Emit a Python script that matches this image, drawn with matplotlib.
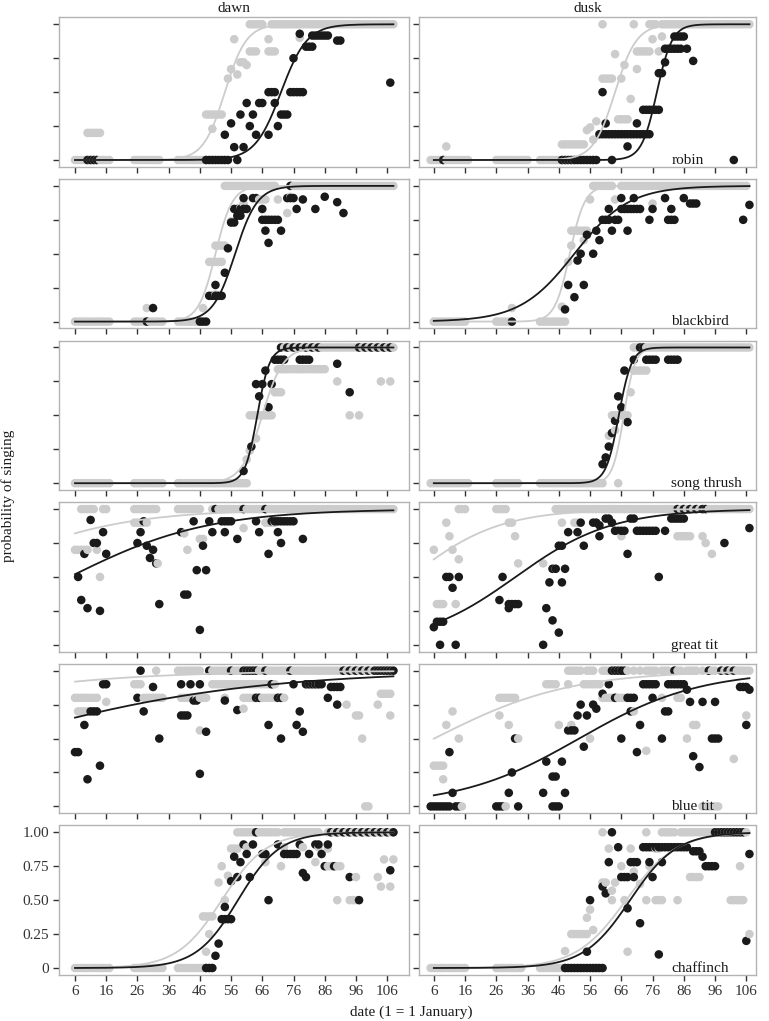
import numpy as np
import matplotlib
matplotlib.use("Agg")
import matplotlib.pyplot as plt

# ---------------- data: {probability: [days]} ----------------
species = ["robin", "blackbird", "song thrush", "great tit", "blue tit", "chaffinch"]
periods = ["dawn", "dusk"]
x_ticks = [6, 16, 26, 36, 46, 56, 66, 76, 86, 96, 106]
y_ticks = [0, 0.25, 0.5, 0.75, 1.0]
y_tick_labels = ["0", "0.25", "0.50", "0.75", "1.00"]

robin_dawn_grey = {
    0: [6, 7, 8, 9, 10, 11, 12, 13, 14, 15, 16, 17, 25, 26, 27, 28, 29, 30, 31, 32, 33,
        39, 40, 41, 42, 43, 44, 45, 46, 47, 48],
    0.2: [10, 11, 12, 13, 14], 0.23: [50], 0.335: [48, 49, 50, 51, 52, 53],
    0.6: [55], 0.63: [58], 0.67: [56], 0.72: [59, 60], 0.7: [61],
    0.8: [62, 63, 64, 68, 69, 70], 0.89: [57, 68], 0.9: [78],
    1.0: [62, 63, 64, 65, 66, 69, 70, 71, 72, 73, 74, 75, 76, 77, 78, 79, 80, 81, 82, 83, 84,
          85, 86, 87, 88, 89, 90, 91, 92, 93, 94, 95, 96, 97, 98, 99, 100, 101, 102, 103,
          104, 105, 106, 107, 108],
}
robin_dawn_black = {
    0: [10, 11, 12, 13, 48, 49, 50, 51, 52, 53, 54, 55, 58],
    0.095: [57, 60], 0.186: [54, 64, 68], 0.27: [56], 0.25: [62, 71],
    0.335: [59, 63, 72, 73, 74], 0.42: [61, 65, 66, 70],
    0.5: [68, 69, 70, 75, 76, 77, 78, 79], 0.75: [76], 0.835: [80, 81, 82],
    0.917: [82, 83, 84, 85, 86, 87], 0.88: [90, 91], 0.93: [78], 0.57: [107],
}
robin_dusk_grey = {
    0: [5, 6, 7, 8, 9, 10, 11, 12, 13, 14, 15, 16, 17, 26, 27, 28, 29, 30, 31, 32, 33, 34,
        35, 36, 40, 41, 42, 43, 44, 45, 46, 47, 48, 49, 50, 51],
    0.1: [10], 0.115: [47, 48, 49, 50, 51, 52, 53, 54], 0.15: [57], 0.22: [55],
    0.24: [56], 0.285: [58], 0.3: [65, 66, 67, 68], 0.45: [69],
    0.6: [60, 61, 62, 63, 66], 0.7: [67], 0.67: [71], 0.78: [64],
    0.8: [71, 72, 73, 74, 75, 78], 0.89: [76], 0.91: [79],
    1.0: [60, 70, 75, 76, 77, 79, 80, 81, 82, 83, 84, 85, 86, 87, 88, 89, 90, 91, 92, 93,
          94, 95, 96, 97, 98, 99, 100, 101, 102, 103, 104, 105, 106, 107],
}
robin_dusk_black = {
    0: [9, 47, 48, 49, 50, 51, 52, 53, 54, 55, 56, 57, 58, 63, 102],
    0.1: [68],
    0.19: [59, 60, 61, 62, 63, 64, 65, 66, 67, 68, 69, 70, 71, 72, 73, 74, 75],
    0.27: [61, 71], 0.37: [73, 74, 75, 76, 77, 78], 0.5: [60], 0.64: [78, 79],
    0.72: [80], 0.73: [89], 0.82: [80, 81, 82, 83, 84, 85, 87], 0.91: [83, 84, 85, 86],
}

blackbird_dawn_grey = {
    0: [6, 7, 8, 9, 10, 11, 12, 13, 14, 15, 16, 17, 25, 26, 27, 28, 29, 30, 31, 32, 33, 34,
        39, 40, 41, 42, 43, 44, 45, 46],
    0.1: [29, 47], 0.2: [51], 0.44: [49, 50, 51, 52, 53], 0.56: [51, 52, 53, 54],
    0.74: [56], 0.84: [59], 0.87: [60], 0.9: [65, 66, 67, 71], 0.8: [74], 0.92: [75],
    1.0: [54, 55, 56, 57, 58, 59, 60, 61, 62, 63, 64, 65, 66, 67, 68, 69, 70, 76, 77, 78,
          79, 80, 81, 82, 83, 84, 85, 86, 87, 88, 89, 90, 91, 92, 93, 94, 95, 96, 97, 98,
          99, 100, 101, 102, 103, 104, 105, 106, 107, 108],
}
blackbird_dawn_black = {
    0: [29, 46, 47, 48], 0.1: [31], 0.19: [49, 50, 51, 52, 53], 0.27: [51],
    0.36: [54], 0.54: [55], 0.73: [56, 57], 0.78: [58, 59],
    0.83: [57, 58, 59, 60, 61, 66, 77, 83], 0.91: [60, 63, 64, 74, 75, 76],
    0.75: [66, 67, 68, 69, 70, 71], 0.67: [67, 72], 0.58: [68], 1.0: [75],
    0.9: [79], 0.92: [86], 0.88: [90], 0.8: [92],
}
blackbird_dusk_grey = {
    0: [6, 7, 8, 9, 10, 11, 12, 13, 14, 15, 16, 26, 27, 28, 29, 30, 31,
        40, 41, 42, 43, 44, 45, 46, 47, 48],
    0.1: [31], 0.11: [47], 0.44: [49], 0.56: [50], 0.67: [50, 51, 52, 53, 54, 55],
    0.6: [54], 0.9: [56, 64], 0.87: [76],
    1.0: [57, 58, 59, 60, 61, 62, 63, 66, 67, 68, 69, 70, 71, 72, 73, 74, 75, 76, 77, 78,
          79, 80, 81, 82, 83, 84, 85, 86, 87, 88, 89, 90, 91, 92, 93, 94, 95, 96, 97, 98,
          99, 100, 101, 102, 103, 104, 105, 106],
}
blackbird_dusk_black = {
    0: [31], 0.09: [48], 0.18: [51], 0.27: [49, 54], 0.45: [52], 0.5: [53, 57],
    0.6: [59], 0.64: [55], 0.67: [58, 63, 68],
    0.75: [60, 61, 62, 64, 65, 75, 81, 82, 83, 105],
    0.83: [62, 66, 67, 68, 69, 70, 71, 72, 76, 82],
    0.91: [66, 70, 80, 86], 0.87: [88, 89, 90], 0.86: [107],
}

song_thrush_dawn_grey = {
    0: [6, 7, 8, 9, 10, 11, 12, 13, 14, 15, 16, 17, 25, 26, 27, 28, 29, 30, 31, 32, 33, 34,
        39, 40, 41, 42, 43, 44, 45, 46, 47, 48, 49, 50, 51, 52, 53, 54, 55, 56, 57, 58,
        59, 60, 61],
    0.175: [61], 0.24: [62], 0.33: [64], 0.5: [62, 63, 64, 65, 66, 67, 68, 69, 94, 97],
    0.67: [70, 71, 72],
    0.84: [71, 72, 73, 74, 75, 76, 77, 78, 79, 80, 81, 82, 83, 84, 85, 86],
    0.75: [90, 104, 107],
    1.0: [73, 74, 75, 76, 77, 78, 79, 80, 81, 82, 83, 84, 85, 86, 87, 88, 89, 90, 91, 92,
          93, 94, 95, 96, 97, 98, 99, 100, 101, 102, 103, 104, 105, 106, 107, 108],
}
song_thrush_dawn_black = {
    0.09: [60], 0.27: [62.5], 0.56: [68], 0.64: [65], 0.73: [64, 66, 69], 0.83: [67],
    0.91: [70, 71, 72, 73, 78, 79, 80, 81],
    1.0: [72, 74, 76, 78, 80, 82, 84, 97, 99, 101, 103, 105, 107],
    0.88: [90], 0.67: [94],
}
song_thrush_dusk_grey = {
    0: [5, 6, 7, 8, 9, 10, 11, 12, 13, 14, 15, 16, 17, 26, 27, 28, 29, 30, 31, 32, 33,
        40, 41, 42, 43, 44, 45, 46, 47, 48, 49, 50, 51, 52, 53, 54, 55, 56, 57, 58, 59,
        60, 65],
    0.35: [62], 0.39: [64], 0.5: [63, 64, 65, 66, 67, 68], 0.67: [69],
    0.83: [70, 71, 72, 73, 74],
    1.0: [70, 71, 72, 73, 74, 75, 76, 77, 78, 79, 80, 81, 82, 83, 84, 85, 86, 87, 88, 89,
          90, 91, 92, 93, 94, 95, 96, 97, 98, 99, 100, 101, 102, 103, 104, 105, 106, 107],
}
song_thrush_dusk_black = {
    0.14: [60], 0.19: [61], 0.27: [62], 0.37: [63], 0.46: [64], 0.64: [65],
    0.56: [66], 0.45: [68], 0.83: [67],
    0.91: [70, 74, 75, 76, 77, 81, 82, 83, 84], 1.0: [72, 73],
}

great_tit_dawn_grey = {
    1.0: [8, 9, 10, 11, 12, 15, 16, 25, 26, 27, 28, 29, 30, 31, 32, 39, 40, 41, 42, 43, 44,
          45, 46, 50, 51, 52, 53, 54, 55, 56, 57, 58, 59, 60, 61, 62, 63, 64, 65, 66, 67,
          68, 69, 70, 71, 72, 73, 74, 75, 76, 77, 78, 79, 80, 81, 82, 83, 84, 85, 86, 87,
          88, 89, 90, 91, 92, 93, 94, 95, 96, 97, 98, 99, 100, 101, 102, 103, 104, 105,
          106, 107, 108],
    0.7: [6, 7, 8, 9, 10, 13, 42], 0.5: [14], 0.9: [25, 26, 27, 28, 29, 67, 68, 69, 70],
    0.82: [41], 0.78: [46, 47], 0.6: [32.5], 0.86: [60],
}
great_tit_dawn_black = {
    0.5: [7], 0.33: [8], 0.27: [10], 0.25: [14], 0.67: [9, 16, 68], 0.92: [11],
    0.75: [12, 13, 26, 72], 0.83: [15, 27, 40, 50, 54, 65, 71],
    0.91: [28, 44, 49, 53, 54, 55, 56, 64, 69, 70, 71, 72, 73, 74, 75, 76],
    0.73: [29, 47], 0.7: [31], 0.64: [30], 0.6: [32], 0.3: [33], 0.37: [41, 42],
    0.55: [45, 48], 0.11: [46], 1.0: [51, 60, 67], 0.78: [58, 79],
}
great_tit_dusk_grey = {
    1.0: [14, 15, 16, 26, 27, 28, 29, 45, 46, 47, 48, 49, 50, 51, 52, 53, 54, 55, 56, 57,
          58, 59, 60, 61, 62, 63, 64, 65, 66, 67, 68, 69, 70, 71, 72, 73, 74, 75, 76, 77,
          78, 79, 80, 81, 82, 83, 84, 85, 86, 87, 88, 89, 90, 91, 92, 93, 94, 95, 96, 97,
          98, 99, 100, 101, 102, 103, 104, 105, 106, 107],
    0.7: [6, 12], 0.9: [10, 30, 31, 47, 51, 52], 0.8: [11, 32, 66, 84, 85, 86, 87, 88, 92],
    0.63: [14], 0.3: [7, 8, 9, 13], 0.6: [33, 41], 0.56: [44, 45], 0.75: [93], 0.67: [95],
}
great_tit_dusk_black = {
    0.13: [6], 0.17: [7, 8, 9], 0: [8, 13, 41], 0.5: [10, 11, 14, 28, 78], 0.42: [12],
    0.33: [27], 0.3: [30, 31, 32, 33], 0.27: [30, 42], 0.18: [44], 0.09: [46],
    0.46: [43, 47], 0.56: [44, 45, 48], 0.73: [46, 47, 54], 0.83: [49, 52],
    0.9: [53, 57, 58, 63], 0.88: [59], 0.8: [59],
    0.93: [61, 62, 69, 70, 82, 83, 84, 85, 86],
    0.84: [64, 65, 66, 67, 71, 72, 73, 74, 75, 76, 77, 80], 0.67: [68],
    1.0: [84, 86, 88, 90, 92, 93], 0.75: [99], 0.86: [107],
}

blue_tit_dawn_grey = {
    1.0: [32, 39, 40, 41, 42, 43, 44, 45, 46, 50, 51, 52, 53, 54, 55, 56, 57, 58, 59, 60,
          61, 62, 63, 64, 65, 66, 67, 68, 69, 70, 71, 72, 73, 74, 75, 76, 77, 78, 79, 80,
          81, 82, 83, 84, 85, 86, 87, 88, 89, 90, 91, 92, 93, 94, 95, 96, 97, 98, 99, 100,
          101, 102, 103, 104, 105, 106, 107, 108],
    0.9: [25, 26, 27, 50, 51, 52, 53, 54, 55, 56, 57, 58, 59, 60, 61, 62, 63, 64, 65, 66,
          67, 68, 69, 70, 80, 81, 82, 83, 84],
    0.8: [6, 7, 8, 9, 10, 11, 12, 13, 28, 29, 30, 31, 32, 33, 34, 40, 41, 42, 43, 44, 45,
          46, 47, 48, 54, 60, 61, 62, 63, 64, 65, 66, 67, 68, 69, 70, 71, 72, 73],
    0.7: [7, 8, 9, 10], 0.77: [16], 0.72: [60], 0.75: [93, 103],
    0.83: [104, 105, 106, 107], 0.67: [96, 97, 107], 0.5: [98], 0: [99, 100], 0.56: [46],
}
blue_tit_dawn_black = {
    0.4: [6, 7], 0.6: [9, 68, 77], 0.2: [10], 0.7: [11, 12, 13, 28, 78], 0.3: [14],
    0.9: [15, 16, 40, 43, 46, 69, 76, 80, 81, 82, 83, 84, 85],
    1.0: [27, 49, 56, 60, 61, 62, 63, 64, 67, 75, 92, 94, 96, 98, 100, 102, 103, 104,
          105, 106, 107, 108],
    0.8: [26, 64, 65, 71, 72, 87], 0.88: [31, 88, 89, 90, 91], 0.5: [33, 72],
    0.67: [40, 41, 42], 0.78: [44, 45, 54], 0.55: [48, 79], 0.24: [46], 0.71: [58],
    0.75: [90],
}
blue_tit_dusk_grey = {
    0.3: [6, 7, 8, 9], 0.2: [9], 0.5: [14, 33, 56, 87], 0.6: [10, 30, 46, 50, 89, 90],
    0.7: [12, 70], 0: [15, 29, 92, 93, 94, 95, 96, 97],
    0.8: [27, 28, 29, 30, 31, 32, 60, 61, 62, 63, 64, 65, 66, 67, 68, 79, 84, 85],
    0.67: [27, 106], 0.9: [42, 43, 44, 45, 49, 54, 55, 56, 57, 58, 59],
    1.0: [49, 50, 51, 52, 53, 55, 56, 57, 60, 61, 62, 64, 65, 66, 68, 70, 72, 74, 75, 76,
          77, 79, 80, 81, 83, 84, 85, 87, 88, 89, 90, 92, 94, 95, 96, 98, 99, 100, 101,
          103, 104, 105, 106, 107],
    0.41: [74], 0.35: [102],
}
blue_tit_dusk_black = {
    0: [5, 6, 7, 8, 9, 10, 11, 13, 14, 26, 27, 28, 33, 44, 45, 46],
    0.1: [12, 30, 41, 48], 0.4: [11, 71], 0.25: [31], 0.5: [32, 66, 79, 95, 96, 97],
    0.22: [44, 45], 0.33: [42, 47], 0.56: [49, 50, 51], 0.44: [54], 0.67: [52, 55],
    0.75: [53, 57], 0.72: [58], 0.83: [60],
    0.9: [62, 73, 74, 75, 76, 77, 81, 82, 83, 84, 85, 86],
    1.0: [63, 64, 65, 66, 67, 83, 94, 98, 100, 102],
    0.8: [64, 68, 69, 70, 76], 0.7: [69, 80, 81], 0.6: [72, 106], 0.86: [87, 107],
    0.77: [88, 92, 96], 0.37: [89], 0.29: [91], 0.88: [104, 105, 106],
}

chaffinch_dawn_grey = {
    0: [6, 7, 8, 9, 10, 11, 12, 13, 14, 15, 16, 17, 25, 26, 27, 28, 29, 30, 31, 32, 33, 34,
        39, 40, 41, 42, 43, 44, 45, 46, 47, 48],
    0.12: [48], 0.25: [49], 0.38: [47, 48, 49, 50], 0.5: [54, 90, 94, 95, 96],
    0.63: [52], 0.75: [53, 72, 87, 88, 89, 90, 91], 0.68: [55], 0.88: [56, 57, 58, 87],
    1.0: [58, 59, 60, 61, 62, 63, 64, 65, 66, 67, 68, 69, 70, 71, 73, 74, 75, 76, 77, 78,
          79, 80, 81, 82, 83, 84, 87, 88, 89, 90, 91, 92, 93, 94, 95, 96, 97, 98, 99, 100,
          101, 102, 103, 104, 105, 106, 107, 108],
    0.89: [61, 73, 79, 84], 0.78: [67, 83], 0.67: [96, 103], 0.8: [105, 108],
    0.6: [104, 107],
}
chaffinch_dawn_black = {
    0: [48, 49, 50], 0.09: [51], 0.18: [52], 0.36: [53, 54, 55, 56], 0.45: [54],
    0.64: [56], 0.82: [57], 0.67: [58, 62, 80, 94], 0.78: [59],
    0.91: [60, 63, 71, 78, 83, 84, 87],
    0.84: [61, 66, 67, 73, 74, 75, 76, 77, 81, 85],
    1.0: [64, 88, 90, 92, 94, 96, 98, 100, 102, 104, 106, 108],
    0.5: [68, 97], 0.7: [79], 0.75: [86, 89], 0.72: [107],
}
chaffinch_dusk_grey = {
    0: [5, 6, 7, 8, 9, 10, 11, 12, 13, 14, 15, 16, 26, 27, 28, 29, 30, 31, 32, 33, 34,
        40, 41, 42, 43, 44, 45, 46, 47, 48],
    0.125: [48], 0.25: [50, 51, 52, 53, 54, 55, 107], 0.28: [57], 0.37: [55],
    0.43: [56], 0.5: [63, 67, 74, 77, 78, 79, 84, 101, 102, 103, 104, 105],
    0.63: [60, 61, 64], 0.57: [63], 0.71: [70], 0.75: [66, 75, 104], 0.62: [72],
    0.67: [88, 89, 90, 91], 0.88: [62, 69, 77, 78], 0.12: [68],
    1.0: [60, 74, 79, 80, 81, 82, 83, 85, 86, 87, 88, 89, 90, 91, 92, 93, 94, 95, 96,
          97, 98, 99, 100, 101, 102, 103, 104, 105, 106],
}
chaffinch_dusk_black = {
    0: [48, 49, 50, 51, 52, 53, 54, 55, 56, 57, 58, 59, 60], 0.12: [55], 0.5: [56],
    0.6: [60], 0.55: [61], 0.78: [62, 69, 70, 71, 75, 79],
    0.89: [65, 73, 74, 75, 76, 77, 78, 79, 80, 81, 82, 83, 84, 85, 86, 87],
    1.0: [63, 96, 97, 98, 99, 100, 101, 102, 103, 104, 105],
    0.67: [66, 67, 68, 70, 76], 0.44: [68], 0.33: [72], 0.1: [78],
    0.86: [89, 90, 91], 0.82: [92], 0.75: [93, 94, 95, 96], 0.84: [107], 0.2: [106],
}

# fitted logistic curves: (intercept, slope) on the logit scale
# order: dawn grey, dawn black, dusk grey, dusk black
robin_fit = [(-15.66, 0.29), (-17.28, 0.24), (-18.56, 0.29), (-31.73, 0.41)]
blackbird_fit = [(-18.87, 0.37), (-16.04, 0.28), (-20.8, 0.42), (-5.865, 0.115)]
song_thrush_fit = [(-19.8, 0.30), (-32.84, 0.51), (-37.41, 0.56), (-31.95, 0.49)]
great_tit_fit = [(1.26, 0.044), (-0.19, 0.045), (0.11, 0.07), (-2.09, 0.065)]
blue_tit_fit = [(2.25, 0.03), (0.49, 0.0245), (-0.28, 0.046), (-2.73, 0.052)]
chaffinch_fit = [(-7.42, 0.14), (-8.73, 0.15), (-8.44, 0.125), (-9.29, 0.135)]

fit_day_range = {"dawn": (6, 108), "dusk": (6, 107)}

panels = [
    (robin_dawn_grey, robin_dawn_black, robin_dusk_grey, robin_dusk_black, robin_fit),
    (blackbird_dawn_grey, blackbird_dawn_black, blackbird_dusk_grey, blackbird_dusk_black, blackbird_fit),
    (song_thrush_dawn_grey, song_thrush_dawn_black, song_thrush_dusk_grey, song_thrush_dusk_black, song_thrush_fit),
    (great_tit_dawn_grey, great_tit_dawn_black, great_tit_dusk_grey, great_tit_dusk_black, great_tit_fit),
    (blue_tit_dawn_grey, blue_tit_dawn_black, blue_tit_dusk_grey, blue_tit_dusk_black, blue_tit_fit),
    (chaffinch_dawn_grey, chaffinch_dawn_black, chaffinch_dusk_grey, chaffinch_dusk_black, chaffinch_fit),
]

# ---------------- style ----------------
GREY = "#CCCCCC"
BLACK = "#1A1A1A"
BORDER = "#B3B3B3"
SERIF = ["Liberation Serif", "DejaVu Serif"]
plt.rcParams["font.family"] = SERIF

W, H = 769, 1021
fig = plt.figure(figsize=(W / 100, H / 100), dpi=100)

col_x = [(59.3, 409.0), (418.8, 756.3)]
col_xlim = [(0.97, 113.0), (1.2, 109.2)]
row_top0, row_step, row_h = 17.5, 161.6, 149.3


def to_xy(d):
    xs, ys = [], []
    for p, days in d.items():
        for day in days:
            xs.append(day)
            ys.append(p)
    return xs, ys


for r, (dg, db, kg, kb, fit) in enumerate(panels):
    top = row_top0 + r * row_step
    for c in range(2):
        x0, x1 = col_x[c]
        ax = fig.add_axes([x0 / W, 1 - (top + row_h) / H, (x1 - x0) / W, row_h / H])
        grey_d, black_d = (dg, db) if c == 0 else (kg, kb)
        gx, gy = to_xy(grey_d)
        bx, by = to_xy(black_d)
        allx = np.array(gx + bx, dtype=float)
        ally = np.array(gy + by, dtype=float)
        cols = np.array([GREY] * len(gx) + [BLACK] * len(bx))
        order = np.argsort(allx, kind="stable")
        ax.scatter(allx[order], ally[order], s=38, c=cols[order], linewidths=0, zorder=2)

        lo, hi = fit_day_range[periods[c]]
        xx = np.linspace(lo, hi, 300)
        for k, colr in ((0, GREY), (1, BLACK)):
            a, b = fit[2 * c + k]
            yy = 1.0 / (1.0 + np.exp(-(a + b * xx)))
            ax.plot(xx, yy, color=colr, lw=1.3, zorder=3)

        ax.set_xlim(*col_xlim[c])
        ax.set_ylim(-0.05, 1.05)
        ax.set_xticks(x_ticks)
        ax.set_yticks(y_ticks)
        ax.tick_params(direction="out", length=4.3, width=1.0, color="#333333",
                       labelsize=11, labelcolor="#333333", pad=3)
        if r == len(panels) - 1:
            ax.set_xticklabels([str(t) for t in x_ticks], family=SERIF)
        else:
            ax.set_xticklabels([])
        if r == len(panels) - 1 and c == 0:
            ax.set_yticklabels(y_tick_labels, family=SERIF)
        else:
            ax.set_yticklabels([])
        for sp in ax.spines.values():
            sp.set_color(BORDER)
            sp.set_linewidth(1.0)
        if c == 1:
            ax.text(82, -0.028, species[r], ha="left", va="baseline",
                    fontsize=11, color=BLACK, family=SERIF)

for c, name in enumerate(periods):
    x0, x1 = col_x[c]
    fig.text((x0 + x1) / 2 / W, 1 - 8.3 / H, name, ha="center", va="center",
             fontsize=11, color=BLACK, family=SERIF)

fig.text(8 / W, 1 - 496 / H, "probability of singing", rotation=90,
         ha="center", va="center", fontsize=11, color=BLACK, family=SERIF)
fig.text(411 / W, 1 - 1012 / H, "date (1 = 1 January)", ha="center", va="center",
         fontsize=11, color=BLACK, family=SERIF)

fig.savefig("out.png", dpi=100)
